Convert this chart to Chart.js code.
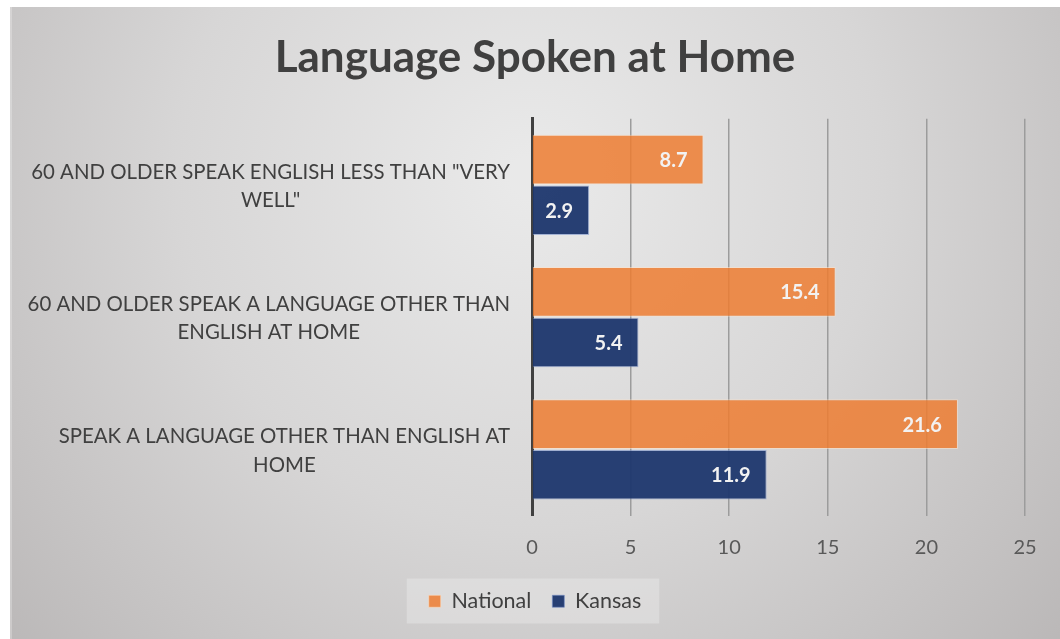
<!DOCTYPE html>
<html>
<head>
<meta charset="utf-8">
<script src="https://cdn.jsdelivr.net/npm/chart.js@4.4.1/dist/chart.umd.min.js"></script>
<style>
  html, body { margin: 0; padding: 0; background: #fff; }
  #wrap { position: absolute; left: 10px; top: 7px; width: 1050px; height: 632px; }
</style>
</head>
<body>
<div id="wrap"><canvas id="langChart" width="1050" height="632"></canvas></div>
<script>
// categories, top to bottom
var categories = [
  ['60 AND OLDER SPEAK ENGLISH LESS THAN "VERY', 'WELL"'],
  ['60 AND OLDER SPEAK A LANGUAGE OTHER THAN', 'ENGLISH AT HOME'],
  ['SPEAK A LANGUAGE OTHER THAN ENGLISH AT', 'HOME']
]
var nationalValues = [8.7, 15.4, 21.6]
var kansasValues = [2.9, 5.4, 11.9]
var xTicks = [0, 5, 10, 15, 20, 25]

var bgPlugin = {
  id: 'bgPlugin',
  beforeDraw: function (chart) {
    var ctx = chart.ctx
    var w = chart.width, h = chart.height
    ctx.save()
    var g = ctx.createRadialGradient(520, 170, 20, 520, 170, 760)
    g.addColorStop(0, '#e9e9e9')
    g.addColorStop(0.45, '#d7d6d6')
    g.addColorStop(1, '#b6b3b3')
    ctx.fillStyle = g
    ctx.fillRect(0, 0, w, h)
    ctx.fillStyle = 'rgba(255,255,255,0.25)'
    ctx.fillRect(0, 0, 2, h)

    // legend background box
    var lg = chart.legend
    if (lg && lg.legendHitBoxes && lg.legendHitBoxes.length) {
      var boxes = lg.legendHitBoxes
      var l = boxes[0].left, r = boxes[boxes.length - 1].left + boxes[boxes.length - 1].width
      ctx.fillStyle = 'rgba(236,236,236,0.42)'
      ctx.fillRect(l - 22, boxes[0].top - 12, (r - l) + 40, 45)
    }
    ctx.restore()
  }
}

// category labels: each block right aligned, lines centred inside the block
var catLabels = {
  id: 'catLabels',
  afterDraw: function (chart) {
    var ctx = chart.ctx
    var yScale = chart.scales.y
    var right = chart.chartArea.left - 22
    ctx.save()
    ctx.font = '20.4px Lato'
    ctx.fillStyle = '#404040'
    ctx.textAlign = 'center'
    ctx.textBaseline = 'middle'
    chart.data.labels.forEach(function (lines, i) {
      var widest = 0
      lines.forEach(function (t) { widest = Math.max(widest, ctx.measureText(t).width) })
      var cx = right - widest / 2
      var cy = yScale.getPixelForTick(i) + 1.5
      var lh = 28.5
      var y0 = cy - (lines.length - 1) * lh / 2
      lines.forEach(function (t, k) { ctx.fillText(t, cx, y0 + k * lh) })
    })
    ctx.restore()
  }
}

var valueLabels = {
  id: 'valueLabels',
  afterDatasetsDraw: function (chart) {
    var ctx = chart.ctx
    ctx.save()
    ctx.font = 'bold 20px Lato'
    ctx.fillStyle = '#f2f2f2'
    ctx.textAlign = 'right'
    ctx.textBaseline = 'middle'
    chart.data.datasets.forEach(function (ds, i) {
      var meta = chart.getDatasetMeta(i)
      meta.data.forEach(function (bar, j) {
        ctx.fillText(ds.data[j].toFixed(1), bar.x - 16, bar.y + 1)
      })
    })
    ctx.restore()
  }
}

var ctx = document.getElementById('langChart').getContext('2d')
var langChart = new Chart(ctx, {
  type: 'bar',
  data: {
    labels: categories,
    datasets: [{
      label: 'National',
      data: nationalValues,
      backgroundColor: 'rgba(237,125,49,0.85)',
      borderColor: 'rgba(255,225,200,0.55)',
      borderWidth: 1,
      categoryPercentage: 0.765,
      barPercentage: 0.98
    }, {
      label: 'Kansas',
      data: kansasValues,
      backgroundColor: 'rgba(31,56,110,0.96)',
      borderColor: 'rgba(120,145,200,0.6)',
      borderWidth: 1,
      categoryPercentage: 0.765,
      barPercentage: 0.98
    }]
  },
  options: {
    indexAxis: 'y',
    responsive: false,
    animation: false,
    layout: { padding: { left: 0, right: 0, top: 0, bottom: 17 } },
    scales: {
      x: {
        min: 0,
        max: 25,
        afterBuildTicks: function (scale) {
          scale.ticks = xTicks.map(function (v) { return { value: v } })
        },
        afterFit: function (scale) { scale.height = 54 },
        grid: { color: '#9c9c9c', lineWidth: 1.5, drawTicks: false },
        border: { display: false },
        ticks: {
          padding: 20,
          color: '#595959',
          font: { family: 'Lato', size: 20 }
        }
      },
      y: {
        afterFit: function (scale) { scale.width = 522 },
        grid: { display: false, drawTicks: false },
        border: { display: true, color: '#404040', width: 3 },
        ticks: { display: false }
      },
      // empty strip on the right, keeps the title and legend centred on the full width
      yRight: {
        type: 'linear',
        position: 'right',
        afterFit: function (scale) { scale.width = 35 },
        grid: { display: false, drawTicks: false },
        border: { display: false },
        ticks: { display: false }
      }
    },
    plugins: {
      title: {
        display: true,
        text: 'Language Spoken at Home',
        color: '#404040',
        font: { family: 'Lato', size: 44, weight: 'bold', lineHeight: 1.2 },
        padding: { top: 24, bottom: 35 }
      },
      legend: {
        position: 'bottom',
        labels: {
          boxWidth: 12,
          boxHeight: 12,
          padding: 21,
          color: '#404040',
          font: { family: 'Lato', size: 21.5 }
        }
      },
      tooltip: { enabled: false }
    }
  },
  plugins: [bgPlugin, catLabels, valueLabels]
})
</script>
</body>
</html>
